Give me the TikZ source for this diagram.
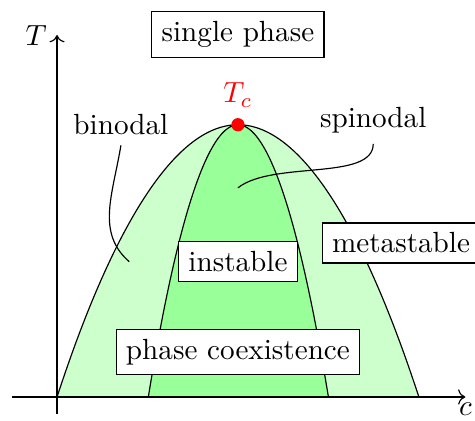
\documentclass[tikz,border=0pt]{standalone}
\usepackage{amsmath, amssymb}
\usetikzlibrary{arrows.meta, positioning}

\begin{document}
\begin{tikzpicture}[
  phasebox/.style={draw=black, fill=white},
  axisline/.style={->},
  leader/.style={thin, black},
]
  \useasboundingbox (-0.687,-0.289) rectangle (5.036,4.783);

  % Regions
  \fill[green!20] (0,0) parabola bend (2.18,3.28) (4.36,0) -- cycle;
  \fill[green!40] (1.10,0) parabola bend (2.18,3.28) (3.27,0) -- cycle;
  \draw (0,0) parabola bend (2.18,3.28) (4.36,0);
  \draw (1.10,0) parabola bend (2.18,3.28) (3.27,0);

  % Axes
  \coordinate (xstart) at (-0.54,0);
  \coordinate (xend) at (4.92,0);
  \coordinate (ystart) at (0,-0.2);
  \coordinate (yend) at (0,4.36);
  \draw[axisline] (xstart) -- (xend);
  \draw[axisline] (ystart) -- (yend);
  \node[below=0pt of xend, inner sep=2pt] (clabel) {$c$};
  \node[left=0pt of yend] (Tlabel) {$T$};

  % Critical point
  \node[circle, fill=red, inner sep=0pt, minimum size=0.16cm] (crit) at (2.18,3.28) {};
  \node[above=0pt of crit, red] (critlabel) {$T_c$};

  % Nodes
  \node[phasebox] (single) at (2.18,4.37) {single phase};
  \node[phasebox] (instable) at (2.18,1.63) {instable};
  \node[phasebox, anchor=west] (meta) at (3.19,1.855) {metastable};
  \node[phasebox] (coex) at (2.18,0.54) {phase coexistence};

  % Labels
  \node (binodal) at (0.77,3.28) {binodal};
  \node (spinodal) at (3.81,3.33) {spinodal};
  \coordinate (bpoint) at (0.87,1.63);
  \coordinate (spoint) at (2.18,2.52);
  \draw[leader] (binodal.south) .. controls +(-0.1,-0.6) and +(-0.4,0.35) .. (bpoint);
  \draw[leader] (spinodal.south) .. controls +(0,-0.45) and +(0.42,0.33) .. (spoint);
\end{tikzpicture}
\end{document}
